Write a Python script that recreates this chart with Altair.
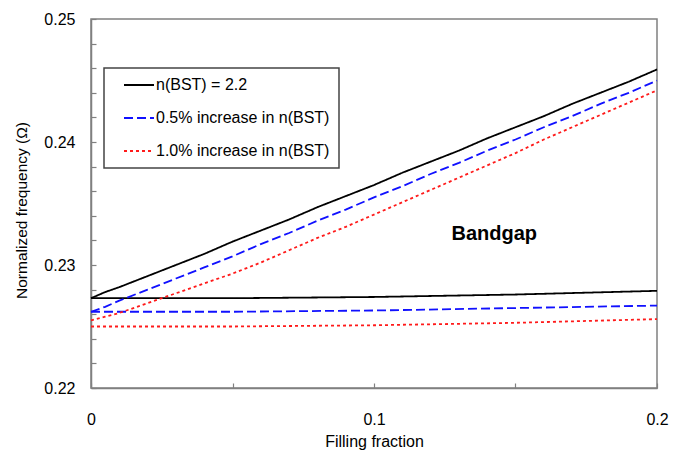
import altair as alt
import pandas as pd

# Filling fraction sample points
frac = [0.0, 0.005, 0.01, 0.02, 0.03, 0.04, 0.05, 0.06, 0.07, 0.08, 0.09, 0.10,
        0.11, 0.12, 0.13, 0.14, 0.15, 0.16, 0.17, 0.18, 0.19, 0.20]

# Upper band edge
black_upper = [0.2273, 0.2278, 0.2282, 0.2291, 0.2300, 0.2309, 0.2319, 0.2328, 0.2337, 0.2347, 0.2356,
               0.2365, 0.2375, 0.2384, 0.2393, 0.2403, 0.2412, 0.2421, 0.2431, 0.2440, 0.2449, 0.2459]
blue_upper = [0.2262, 0.2266, 0.2271, 0.2280, 0.2289, 0.2298, 0.2307, 0.2317, 0.2326, 0.2336, 0.2345,
              0.2355, 0.2364, 0.2374, 0.2383, 0.2393, 0.2402, 0.2412, 0.2421, 0.2431, 0.2440, 0.2450]
red_upper = [0.2255, 0.2258, 0.2261, 0.2269, 0.2277, 0.2285, 0.2293, 0.2302, 0.2312, 0.2322, 0.2331,
             0.2341, 0.2351, 0.2361, 0.2371, 0.2381, 0.2391, 0.2402, 0.2412, 0.2422, 0.2432, 0.2442]

# Lower band edge
frac_low = [0.0, 0.05, 0.10, 0.15, 0.20]
black_lower = [0.2273, 0.2273, 0.2274, 0.2276, 0.2279]
blue_lower = [0.2262, 0.2262, 0.2263, 0.2265, 0.2267]
red_lower = [0.2250, 0.2250, 0.2251, 0.2253, 0.2256]

series_names = ["n(BST) = 2.2", "0.5% increase in n(BST)", "1.0% increase in n(BST)"]
series_colors = ["#000000", "#1010ff", "#ff1a1a"]
series_dash = [[1, 0], [9, 4], [3, 3]]

y_major = [0.22, 0.23, 0.24, 0.25]
y_minor = [0.222, 0.224, 0.226, 0.228, 0.232, 0.234, 0.236, 0.238,
           0.242, 0.244, 0.246, 0.248]
x_major = [0.0, 0.1, 0.2]
x_minor = [0.05, 0.15]

rows = []
for name, up, low in zip(series_names,
                         [black_upper, blue_upper, red_upper],
                         [black_lower, blue_lower, red_lower]):
    for f, v in zip(frac, up):
        rows.append({"f": f, "v": v, "series": name, "branch": name + " upper"})
    for f, v in zip(frac_low, low):
        rows.append({"f": f, "v": v, "series": name, "branch": name + " lower"})
df = pd.DataFrame(rows)

FONT = "Liberation Sans"
x_scale = alt.Scale(domain=[0, 0.2], nice=False)
y_scale = alt.Scale(domain=[0.22, 0.25], nice=False, zero=False)

x_enc = alt.X("f:Q", scale=x_scale,
              axis=alt.Axis(values=x_major, title="Filling fraction", orient="bottom",
                            format="~g", tickSize={"expr": "-5"}, labelPadding=28, titlePadding=6,
                            labelOverlap=False, labelFlush=False, labelBound=False))
y_enc = alt.Y("v:Q", scale=y_scale,
              axis=alt.Axis(values=y_major, title="Normalized frequency (Ω)", orient="left",
                            format=".2f", tickSize={"expr": "-5"}, labelPadding=21, titlePadding=14,
                            titleY=191, titleFontSize=15.5,
                            labelOverlap=False, labelFlush=False, labelBound=False))

lines = alt.Chart(df).mark_line(strokeWidth=1.8, interpolate="linear").encode(
    x=x_enc,
    y=y_enc,
    color=alt.Color("series:N", sort=series_names,
                    scale=alt.Scale(domain=series_names, range=series_colors),
                    legend=alt.Legend(title=None, orient="none", legendX=13, legendY=49,
                                      symbolType="stroke", symbolSize=900, symbolStrokeWidth=1.8,
                                      labelFontSize=16, labelFont=FONT, labelLimit=400,
                                      clipHeight=16, rowPadding=17, symbolOffset=10,
                                      padding=9, strokeColor="#444444", fillColor="white",
                                      labelOffset=1)),
    strokeDash=alt.StrokeDash("series:N", sort=series_names,
                              scale=alt.Scale(domain=series_names, range=series_dash),
                              legend=None),
    detail="branch:N",
)

# invisible layer carrying the minor-tick axes
minor = alt.Chart(df).mark_point(opacity=0).encode(
    x=alt.X("f:Q", scale=x_scale,
            axis=alt.Axis(values=x_minor, orient="bottom", title=None, labels=False,
                          domain=False, tickSize={"expr": "-5"})),
    y=alt.Y("v:Q", scale=y_scale,
            axis=alt.Axis(values=y_minor, orient="left", title=None, labels=False,
                          domain=False, tickSize={"expr": "-5"})),
)

label_df = pd.DataFrame({"f": [0.1425], "v": [0.2325], "t": ["Bandgap"]})
label = alt.Chart(label_df).mark_text(fontSize=20, fontWeight="bold", font=FONT,
                                      color="black").encode(
    x=alt.X("f:Q", scale=x_scale, axis=None),
    y=alt.Y("v:Q", scale=y_scale, axis=None),
    text="t:N")

chart = alt.layer(lines, minor, label).resolve_axis(x="independent", y="independent").properties(
    width=566, height=369,
    autosize=alt.AutoSizeParams(type="none"),
    padding={"left": 83, "top": 11, "right": 18, "bottom": 64},
).configure_view(stroke="#808080", strokeWidth=1.5).configure_axis(
    grid=False, domainColor="#808080", domainWidth=1.5, tickColor="#808080", tickWidth=1.2,
    labelFont=FONT, labelFontSize=16, labelColor="#000000",
    titleFont=FONT, titleFontSize=16, titleFontWeight="normal", titleColor="#000000",
).configure_legend(strokeWidth=1.5)

chart.save("out.html", embed_options={"renderer": "svg", "actions": False})
